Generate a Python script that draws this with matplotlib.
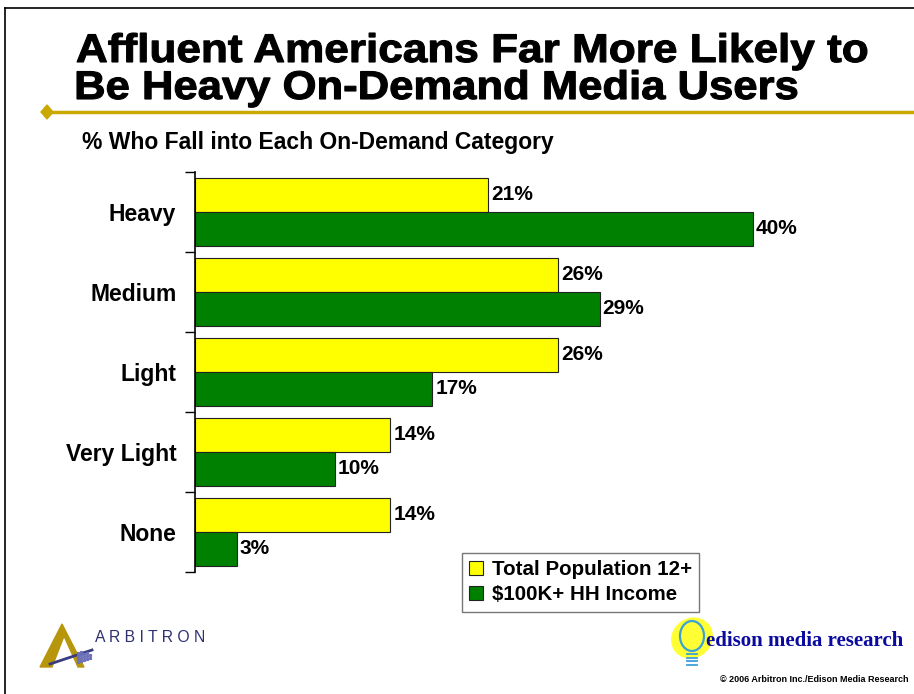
import matplotlib.pyplot as plt
import matplotlib.patches as mpatches
from matplotlib.lines import Line2D
from matplotlib.textpath import TextPath
from matplotlib.font_manager import FontProperties
from matplotlib.transforms import Affine2D
import numpy as np

plt.rcParams['font.family'] = ['Liberation Sans', 'DejaVu Sans']

categories = ['Heavy', 'Medium', 'Light', 'Very Light', 'None']
total_pop = [21, 26, 26, 14, 14]
affluent = [40, 29, 17, 10, 3]
series_names = ['Total Population 12+', '$100K+ HH Income']
title_lines = ['Affluent Americans Far More Likely to', 'Be Heavy On-Demand Media Users']

W, H = 914, 694
fig = plt.figure(figsize=(W / 100, H / 100), dpi=100)


def fx(px):
    return px / W


def fy(py):
    return 1 - py / H


def wide_text(s, x0, x1, baseline, em):
    # draw a heavy, horizontally stretched title line spanning x0..x1 (pixels)
    tp = TextPath((0, 0), s, size=em, prop=FontProperties(family='Liberation Sans', weight='bold'))
    ext = tp.get_extents()
    sx = (x1 - x0) / ext.width
    tr = Affine2D().translate(-ext.x0, 0).scale(sx / W, 1 / H).translate(fx(x0), fy(baseline))
    fig.add_artist(mpatches.PathPatch(tp, facecolor='black', edgecolor='black', lw=0.8,
                                      transform=tr + fig.transFigure))


# slide frame
fig.add_artist(Line2D([fx(5), fx(5)], [fy(8), 0], color='black', lw=1.2))
fig.add_artist(Line2D([fx(5), 1], [fy(8), fy(8)], color='black', lw=1.2))

# title
wide_text(title_lines[0], 77, 867, 62, 40)
wide_text(title_lines[1], 77, 797, 99, 40)

# gold rule with diamond
gold = '#C9A800'
fig.add_artist(Line2D([fx(47), 1], [fy(112), fy(112)], color=gold, lw=2.5))
fig.add_artist(mpatches.Polygon([(fx(41), fy(112)), (fx(47), fy(105)),
                                 (fx(53), fy(112)), (fx(47), fy(119))],
                                closed=True, color=gold, transform=fig.transFigure))

fig.text(fx(82), fy(143), '% Who Fall into Each On-Demand Category', fontsize=16.5,
         fontweight='bold', va='center', ha='left')

# bar chart
ax = fig.add_axes([fx(195), fy(572), fx(855) - fx(195), (572 - 172) / H])
y = np.arange(len(categories))
h = 0.425
ax.barh(y - h / 2, total_pop, height=h, color='#FFFF00', edgecolor='#222222', lw=0.8,
        label=series_names[0])
ax.barh(y + h / 2, affluent, height=h, color='#008000', edgecolor='#222222', lw=0.8,
        label=series_names[1])
for i in range(len(categories)):
    ax.text(total_pop[i] + 0.22, y[i] - h / 2, f'{total_pop[i]}%', fontsize=15,
            fontweight='bold', va='center', ha='left')
    ax.text(affluent[i] + 0.22, y[i] + h / 2, f'{affluent[i]}%', fontsize=15,
            fontweight='bold', va='center', ha='left')

ax.set_xlim(0, 660 / 13.95)
ax.set_ylim(len(categories) - 0.5, -0.5)
ax.set_yticks(np.arange(-0.5, len(categories)), minor=False)
ax.set_yticklabels([])
ax.set_yticks(y, minor=True)
ax.set_yticklabels(categories, minor=True, fontsize=16.5, fontweight='bold')
ax.tick_params(axis='y', which='major', length=7, width=1, direction='out')
ax.tick_params(axis='y', which='minor', length=0, pad=13.5)
ax.set_xticks([])
for s in ['top', 'right', 'bottom']:
    ax.spines[s].set_visible(False)
ax.spines['left'].set_linewidth(1.2)

leg = fig.legend(loc='upper left', bbox_to_anchor=(fx(462), fy(553)),
                 frameon=True, fancybox=False, edgecolor='#555555',
                 prop={'weight': 'bold', 'size': 14.8}, handlelength=0.65,
                 handleheight=0.65, handletextpad=0.45, labelspacing=0.3,
                 borderpad=0.35, borderaxespad=0)
leg.get_frame().set_linewidth(1.0)

# Arbitron logo
navy = '#2E3070'
fig.add_artist(mpatches.Polygon([(fx(40), fy(667)), (fx(52), fy(667)), (fx(64), fy(636)),
                                 (fx(78), fy(667)), (fx(84), fy(667)), (fx(62), fy(624))],
                                closed=True, color='#B8960C', transform=fig.transFigure))
fig.add_artist(Line2D([fx(50), fx(92)], [fy(664), fy(650)], color='#3A3C80', lw=2))
for k in range(5):
    for j in range(4 - k // 2):
        fig.add_artist(Line2D([fx(78 + 3 * k)], [fy(662 - 3 * j - k)], marker='s', ms=1.3,
                              color='#6C70B8', lw=0))
fig.text(fx(95), fy(638), 'A R B I T R O N', fontsize=11.3, color=navy,
         va='center', ha='left')

# Edison logo
fig.add_artist(mpatches.Ellipse((fx(692), fy(638)), fx(40), 40 / H, angle=-10,
                                color='#FFFF33', transform=fig.transFigure))
fig.add_artist(mpatches.Ellipse((fx(692), fy(636)), fx(24), 30 / H, fill=False,
                                edgecolor='#3AA0D8', lw=1.6, transform=fig.transFigure))
for k in range(4):
    fig.add_artist(Line2D([fx(687), fx(697)], [fy(654 + 3.5 * k), fy(654 + 3.5 * k)],
                          color='#3AA0D8', lw=1.3))
fig.text(fx(706), fy(641), 'edison media research', fontsize=15, color='#0A0AA0',
         family=['Liberation Serif'], fontweight='bold', va='center', ha='left')

fig.text(fx(909), fy(680), '\u00a9 2006 Arbitron Inc./Edison Media Research', fontsize=6.5,
         fontweight='bold', va='center', ha='right')

fig.savefig('out.png', dpi=100)
